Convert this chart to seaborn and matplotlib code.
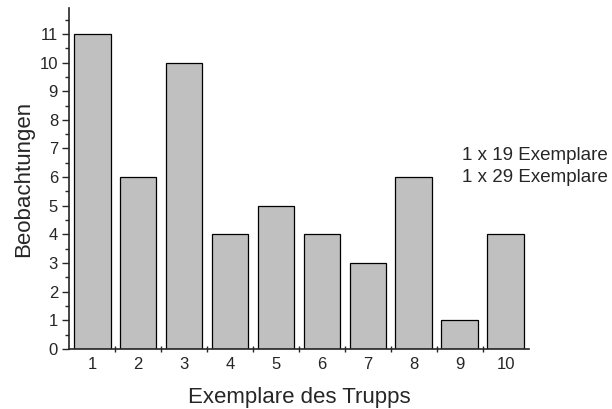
import matplotlib
matplotlib.use("Agg")
import matplotlib.pyplot as plt
from matplotlib.ticker import MultipleLocator, FixedLocator, NullFormatter
import seaborn as sns
import pandas as pd

trupp = ["1", "2", "3", "4", "5", "6", "7", "8", "9", "10"]
beobachtungen = [11, 6, 10, 4, 5, 4, 3, 6, 1, 4]
notes = ["1 x 19 Exemplare", "1 x 29 Exemplare"]

sns.set_style("ticks")
plt.rcParams["font.family"] = ["Liberation Sans", "DejaVu Sans"]

df = pd.DataFrame({"trupp": trupp, "n": beobachtungen})

fig = plt.figure(figsize=(6.12, 4.09), dpi=100)
ax = fig.add_axes([0.113, 0.147, 0.751, 0.833])

sns.barplot(data=df, x="trupp", y="n", order=trupp, color="#c0c0c0",
            saturation=1, edgecolor="black", linewidth=0.9, width=0.8, ax=ax)

ax.set_xlim(-0.5, 9.5)
ax.set_ylim(0, 11.9)
ax.yaxis.set_major_locator(MultipleLocator(1))
ax.yaxis.set_minor_locator(MultipleLocator(0.5))
ax.xaxis.set_minor_locator(FixedLocator([i + 0.5 for i in range(9)]))
ax.xaxis.set_minor_formatter(NullFormatter())
ax.tick_params(axis="x", which="major", length=0, pad=6, labelsize=12)
ax.tick_params(axis="x", which="minor", length=5, direction="inout", width=1)
ax.tick_params(axis="y", which="major", length=5, width=1, labelsize=12, pad=3)
ax.tick_params(axis="y", which="minor", length=3, width=1)

for side in ["top", "right"]:
    ax.spines[side].set_visible(False)
for side in ["left", "bottom"]:
    ax.spines[side].set_linewidth(1.2)

ax.set_xlabel("Exemplare des Trupps", fontsize=16, labelpad=11)
ax.set_ylabel("Beobachtungen", fontsize=16, labelpad=4)

fig.text(0.755, 0.62, notes[0], fontsize=13.5, va="center")
fig.text(0.755, 0.567, notes[1], fontsize=13.5, va="center")

fig.savefig("out.png", dpi=100)
